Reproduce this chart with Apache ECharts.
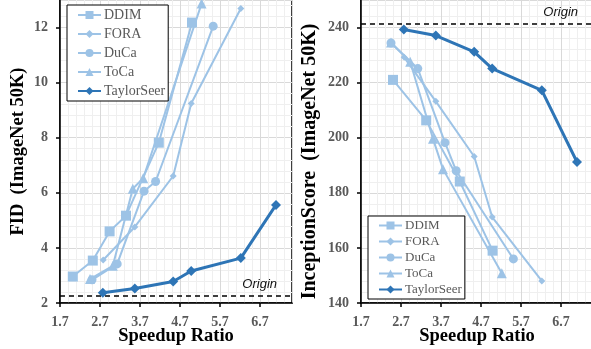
<!DOCTYPE html>
<html>
<head>
<meta charset="utf-8">
<script src="https://cdn.jsdelivr.net/npm/echarts@6/dist/echarts.min.js"></script>
<style>
  html, body { margin: 0; padding: 0; background: #fff; }
  #chart { width: 591px; height: 349px; }
</style>
</head>
<body>
<div id="chart"></div>
<script>
// --- data ---
const methods = ['DDIM', 'FORA', 'DuCa', 'ToCa', 'TaylorSeer'];

// FID panel
const fidDdimX = [2.02, 2.52, 2.94, 3.35, 4.17, 5.0];
const fidDdimY = [2.96, 3.54, 4.6, 5.17, 7.82, 12.18];
const fidForaX = [2.78, 3.57, 4.53, 4.98, 6.22];
const fidForaY = [3.56, 4.76, 6.61, 9.24, 12.69];
const fidDucaX = [2.5, 3.13, 3.8, 4.09, 5.53];
const fidDucaY = [2.84, 3.42, 6.06, 6.41, 12.05];
const fidTocaX = [2.45, 3.02, 3.52, 3.78, 5.24];
const fidTocaY = [2.87, 3.35, 6.15, 6.53, 12.87];
const fidTaylorX = [2.77, 3.57, 4.53, 4.98, 6.22, 7.1];
const fidTaylorY = [2.37, 2.53, 2.78, 3.16, 3.63, 5.56];
const fidOrigin = 2.27;

// Inception Score panel
const isDdimX = [2.5, 3.33, 4.17, 4.99];
const isDdimY = [221, 206.3, 184.1, 159];
const isForaX = [2.78, 3.57, 4.53, 4.98, 6.22];
const isForaY = [229.2, 213.2, 193.2, 171.2, 148];
const isDucaX = [2.45, 3.12, 3.8, 4.08, 5.51];
const isDucaY = [234.4, 225.1, 198.2, 188, 156];
const isTocaX = [2.45, 2.93, 3.5, 3.75, 5.22];
const isTocaY = [234.6, 227.6, 199.6, 188.6, 150.8];
const isTaylorX = [2.77, 3.57, 4.53, 4.98, 6.22, 7.1];
const isTaylorY = [239.3, 237.1, 231.2, 225.1, 217.2, 191.2];
const isOrigin = 241.5;

// --- styles ---
const LIGHT = '#9DC3E6';
const DARK = '#2E75B6';
const SERIF = 'Liberation Serif';
const LABEL_GRAY = '#595959';

const symbols = {
  DDIM: { symbol: 'rect', size: 10 },
  FORA: { symbol: 'diamond', size: 7 },
  DuCa: { symbol: 'circle', size: 9 },
  ToCa: { symbol: 'triangle', size: 10 },
  TaylorSeer: { symbol: 'diamond', size: 10 }
};

const pairs = (xs, ys) => xs.map((x, i) => [x, ys[i]]);

function makeSeries(name, xs, ys, idx) {
  const isOurs = name === 'TaylorSeer';
  const color = isOurs ? DARK : LIGHT;
  return {
    name,
    type: 'line',
    xAxisIndex: idx,
    yAxisIndex: idx,
    data: pairs(xs, ys),
    symbol: symbols[name].symbol,
    symbolSize: symbols[name].size,
    showAllSymbol: true,
    itemStyle: { color },
    lineStyle: { color, width: isOurs ? 3 : 2 },
    z: isOurs ? 5 : 3,
    animation: false
  };
}

function originLine(idx, value) {
  return {
    type: 'line',
    xAxisIndex: idx,
    yAxisIndex: idx,
    data: [],
    silent: true,
    animation: false,
    markLine: {
      symbol: 'none',
      silent: true,
      animation: false,
      lineStyle: { color: '#000', type: [5, 4], width: 1.5 },
      label: {
        position: 'insideEndTop',
        formatter: 'Origin',
        fontFamily: 'Liberation Sans',
        fontStyle: 'italic',
        fontSize: 13,
        color: '#111',
        padding: [0, 10, 0, 0]
      },
      data: [{ yAxis: value }]
    }
  };
}

function xAxis(idx) {
  return {
    type: 'value',
    gridIndex: idx,
    min: 1.7,
    max: 7.5,
    interval: 1,
    name: 'Speedup Ratio',
    nameLocation: 'middle',
    nameGap: 24,
    nameMoveOverlap: false,
    nameTextStyle: { fontFamily: SERIF, fontWeight: 'bold', fontSize: 18.5, color: '#000' },
    axisLine: { lineStyle: { color: '#000', width: 1.5 } },
    axisTick: { inside: false, length: 4, lineStyle: { color: '#000', width: 1.5 } },
    axisLabel: {
      fontFamily: SERIF, fontWeight: 'bold', fontSize: 14, color: LABEL_GRAY,
      margin: 12, showMaxLabel: false,
      formatter: v => v.toFixed(1)
    },
    splitLine: { lineStyle: { color: '#d9d9d9', width: 1 } },
    minorTick: { show: false, splitNumber: 5 },
    minorSplitLine: { show: true, lineStyle: { color: '#efefef', width: 1 } }
  };
}

function yAxis(idx, name, min, max, interval, gap, nameSize, namePad) {
  return {
    type: 'value',
    gridIndex: idx,
    min, max, interval,
    name,
    nameLocation: 'middle',
    nameGap: gap,
    nameMoveOverlap: false,
    nameTextStyle: { fontFamily: SERIF, fontWeight: 'bold', fontSize: nameSize, color: '#000', padding: namePad },
    axisLine: { lineStyle: { color: '#000', width: 1.5 } },
    axisTick: { inside: false, length: 4, lineStyle: { color: '#000', width: 1.5 } },
    axisLabel: {
      fontFamily: SERIF, fontWeight: 'bold', fontSize: 14, color: LABEL_GRAY,
      margin: 12, showMaxLabel: false
    },
    splitLine: { lineStyle: { color: '#d9d9d9', width: 1 } },
    minorTick: { show: false, splitNumber: 5 },
    minorSplitLine: { show: true, lineStyle: { color: '#efefef', width: 1 } }
  };
}

function legend(left, top, fontSize, gap) {
  return {
    data: methods,
    orient: 'vertical',
    left, top,
    itemWidth: 23,
    itemHeight: 10,
    itemGap: gap,
    padding: [3, 3, 3, 10],
    backgroundColor: '#fff',
    borderColor: '#000',
    borderWidth: 1,
    borderRadius: 0,
    textStyle: { fontFamily: SERIF, fontSize, color: LABEL_GRAY, padding: [0, 0, 0, -2] },
    selectedMode: false
  };
}

const chart = echarts.init(document.getElementById('chart'));

const gridBase = {
  top: 0, width: 232, height: 303,
  outerBoundsMode: 'none',
  containLabel: false,
  show: true, borderColor: '#000', borderWidth: 1.5, backgroundColor: 'transparent'
};

chart.setOption({
  backgroundColor: '#fff',
  animation: false,
  grid: [
    Object.assign({ left: 60 }, gridBase),
    Object.assign({ left: 361 }, gridBase)
  ],
  legend: [legend(67, 5, 14, 5), legend(368, 216, 13, 3)],
  xAxis: [xAxis(0), xAxis(1)],
  yAxis: [
    yAxis(0, 'FID  (ImageNet 50K)', 2, 13, 2, 32, 18.5, [0, 0, 0, 0]),
    yAxis(1, 'InceptionScore  (ImageNet 50K)', 140, 250, 20, 41, 20, [0, 20, 0, 0])
  ],
  series: [
    originLine(0, fidOrigin),
    makeSeries('DDIM', fidDdimX, fidDdimY, 0),
    makeSeries('FORA', fidForaX, fidForaY, 0),
    makeSeries('DuCa', fidDucaX, fidDucaY, 0),
    makeSeries('ToCa', fidTocaX, fidTocaY, 0),
    makeSeries('TaylorSeer', fidTaylorX, fidTaylorY, 0),
    originLine(1, isOrigin),
    makeSeries('DDIM', isDdimX, isDdimY, 1),
    makeSeries('FORA', isForaX, isForaY, 1),
    makeSeries('DuCa', isDucaX, isDucaY, 1),
    makeSeries('ToCa', isTocaX, isTocaY, 1),
    makeSeries('TaylorSeer', isTaylorX, isTaylorY, 1)
  ]
});

window.addEventListener('resize', () => chart.resize());
</script>
</body>
</html>
